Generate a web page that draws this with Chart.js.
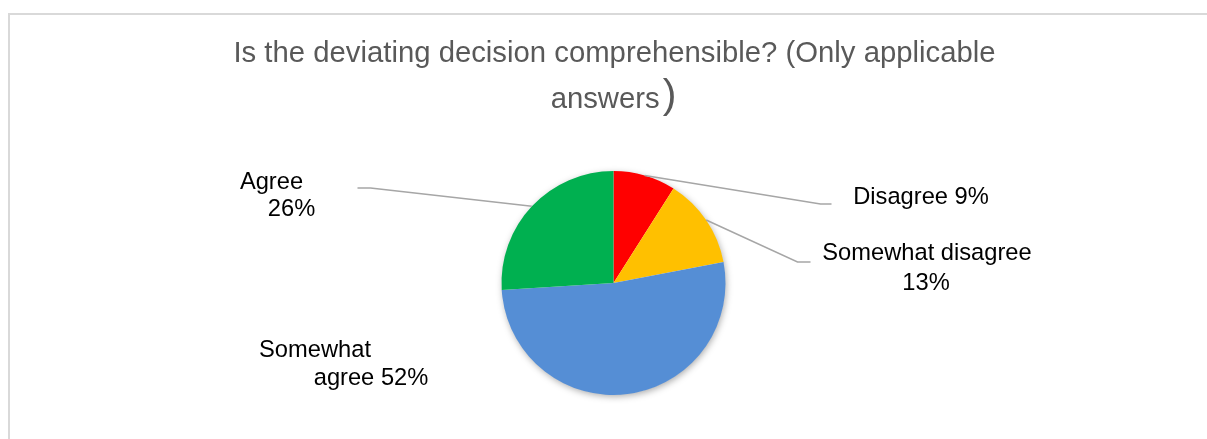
<!DOCTYPE html>
<html>
<head>
<meta charset="utf-8">
<script src="https://cdn.jsdelivr.net/npm/chart.js@4/dist/chart.umd.min.js"></script>
<style>
  html, body { margin: 0; padding: 0; background: #ffffff; }
  canvas { display: block; }
</style>
</head>
<body>
<canvas id="chart" width="1207" height="439"></canvas>
<script>
// Survey answers, clockwise from 12 o'clock
const categories = ['Disagree', 'Somewhat disagree', 'Somewhat agree', 'Agree'];
const shares = [9, 13, 52, 26];
const sliceColors = ['#FF0000', '#FFC000', '#558ED5', '#00B050'];

// Title: first line, second line, and the oversized closing bracket
const titleLines = ['Is the deviating decision comprehensible? (Only applicable', 'answers', ')'];

// Number of words kept on the first line of each data label (0 = single line)
const wrapAfter = [0, 2, 1, 1];

const FONT = '"Liberation Sans", Arial, Helvetica, sans-serif';

// Label placement, in pixels relative to the pie centre:
// each text line is [centreX, baselineY]; leader is [elbow, end] or null
const labelLayout = [
  { lines: [[307.5, -79]], leader: [[207, -79], [218, -79]] },
  { lines: [[313.5, -23.5], [312.5, 7]], leader: [[184, -21], [197, -21]] },
  { lines: [[-298.5, 73.5], [-242.5, 101.5]], leader: null },
  { lines: [[-342, -94], [-322, -67]], leader: [[-243, -95], [-256, -95]] }
];

function labelText(i) {
  const words = (categories[i] + ' ' + shares[i] + '%').split(' ');
  const n = wrapAfter[i];
  if (!n) return [words.join(' ')];
  return [words.slice(0, n).join(' '), words.slice(n).join(' ')];
}

const decor = {
  id: 'decor',
  beforeDraw(chart) {
    const ctx = chart.ctx;
    ctx.save();
    // outer frame
    ctx.strokeStyle = '#D9D9D9';
    ctx.lineWidth = 2;
    ctx.beginPath();
    ctx.moveTo(9, chart.height);
    ctx.lineTo(9, 14);
    ctx.lineTo(chart.width, 14);
    ctx.stroke();

    // title
    ctx.fillStyle = '#595959';
    ctx.textBaseline = 'alphabetic';
    ctx.textAlign = 'center';
    ctx.font = '29.3px ' + FONT;
    ctx.fillText(titleLines[0], 614.5, 62);

    ctx.textAlign = 'left';
    ctx.font = '29.3px ' + FONT;
    const w1 = ctx.measureText(titleLines[1]).width;
    ctx.font = '41px ' + FONT;
    const w2 = ctx.measureText(titleLines[2]).width;
    const start = 613.5 - (w1 + w2 + 3) / 2;
    ctx.font = '29.3px ' + FONT;
    ctx.fillText(titleLines[1], start, 108);
    ctx.font = '41px ' + FONT;
    ctx.fillText(titleLines[2], start + w1 + 3, 108);
    ctx.restore();
  },
  beforeDatasetsDraw(chart) {
    const arc = chart.getDatasetMeta(0).data[0];
    if (!arc) return;
    const { x, y, outerRadius } = arc.getProps(['x', 'y', 'outerRadius'], true);
    const ctx = chart.ctx;
    ctx.save();
    ctx.shadowColor = 'rgba(0,0,0,0.35)';
    ctx.shadowBlur = 7;
    ctx.shadowOffsetX = 1;
    ctx.shadowOffsetY = 2;
    ctx.fillStyle = '#ffffff';
    ctx.beginPath();
    ctx.arc(x, y, outerRadius - 0.5, 0, Math.PI * 2);
    ctx.fill();
    ctx.restore();
  },
  afterDatasetsDraw(chart) {
    const ctx = chart.ctx;
    const arcs = chart.getDatasetMeta(0).data;
    ctx.save();
    arcs.forEach((arc, i) => {
      const p = arc.getProps(['x', 'y', 'startAngle', 'endAngle', 'outerRadius'], true);
      const mid = (p.startAngle + p.endAngle) / 2;
      const layout = labelLayout[i];
      if (layout.leader) {
        ctx.strokeStyle = '#A6A6A6';
        ctx.lineWidth = 1.5;
        ctx.beginPath();
        ctx.moveTo(p.x + Math.cos(mid) * p.outerRadius, p.y + Math.sin(mid) * p.outerRadius);
        layout.leader.forEach(pt => ctx.lineTo(p.x + pt[0], p.y + pt[1]));
        ctx.stroke();
      }
      ctx.fillStyle = '#000000';
      ctx.font = '23.7px ' + FONT;
      ctx.textAlign = 'center';
      ctx.textBaseline = 'alphabetic';
      labelText(i).forEach((line, k) => {
        const pos = layout.lines[k];
        ctx.fillText(line, p.x + pos[0], p.y + pos[1]);
      });
    });
    ctx.restore();
  }
};

new Chart(document.getElementById('chart'), {
  type: 'pie',
  data: {
    labels: categories,
    datasets: [{
      data: shares,
      backgroundColor: sliceColors,
      borderWidth: 0
    }]
  },
  options: {
    responsive: false,
    devicePixelRatio: 1,
    animation: false,
    events: [],
    layout: { padding: { top: 171, bottom: 44, left: 20, right: 0 } },
    plugins: {
      legend: { display: false },
      title: { display: false },
      tooltip: { enabled: false }
    }
  },
  plugins: [decor]
});
</script>
</body>
</html>
